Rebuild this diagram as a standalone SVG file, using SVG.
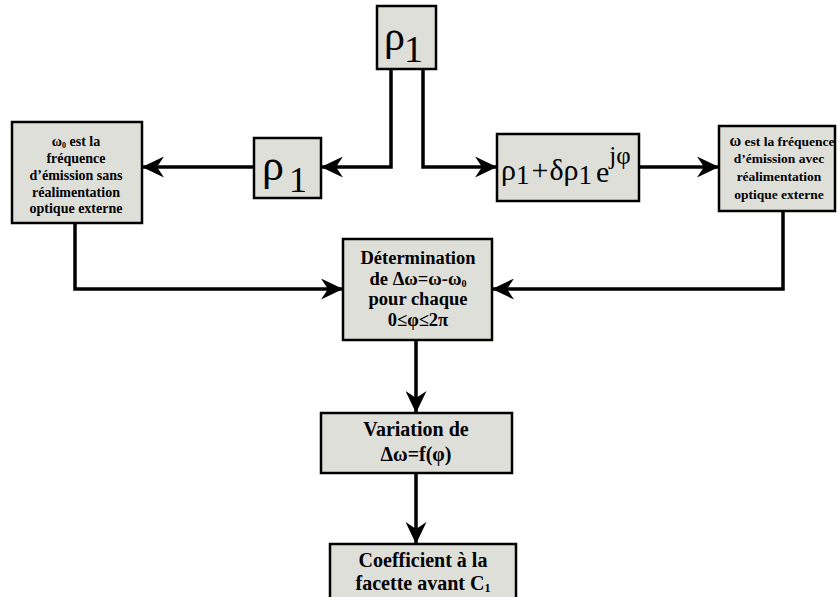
<svg xmlns="http://www.w3.org/2000/svg" width="839" height="597" viewBox="0 0 839 597">
  <style>
    .box { fill: #dfdfda; stroke: #000; stroke-width: 2.5; }
    .wire { fill: none; stroke: #000; stroke-width: 3.5; }
    .t { font-family: "Liberation Serif", "Times New Roman", "DejaVu Serif", serif; font-weight: bold; fill: #000; text-anchor: middle; }
    .s14 { font-size: 14px; }
    .s13 { font-size: 13.5px; }
    .s18 { font-size: 18.5px; }
    .s20 { font-size: 20px; }
  </style>
  <defs>
    <marker id="head" markerUnits="userSpaceOnUse" viewBox="0 0 22 21" refX="22" refY="10.5" markerWidth="22" markerHeight="21" orient="auto">
      <path d="M0,0 L22,10.5 L0,21 L7,10.5 z" fill="#000"/>
    </marker>
  </defs>

  <!-- connectors -->
  <g id="connectors">
    <path class="wire" d="M391,69 V167 H321" marker-end="url(#head)"/>
    <path class="wire" d="M423,69 V167 H497" marker-end="url(#head)"/>
    <path class="wire" d="M254,167 H142" marker-end="url(#head)"/>
    <path class="wire" d="M639,167 H719" marker-end="url(#head)"/>
    <path class="wire" d="M75,223 V289 H343" marker-end="url(#head)"/>
    <path class="wire" d="M783,211 V289 H492" marker-end="url(#head)"/>
    <path class="wire" d="M416,340 V413" marker-end="url(#head)"/>
    <path class="wire" d="M416,473 V544" marker-end="url(#head)"/>
  </g>

  <!-- math labels use the regular serif face -->
  <g id="rho-top" font-family="Liberation Serif, serif" font-weight="400">
    <rect class="box" x="377" y="6" width="59" height="63"/>
    <text x="384" y="50" font-size="42">ρ<tspan x="404" y="62" font-size="38">1</tspan></text>
  </g>

  <g id="rho-left" font-family="Liberation Serif, serif" font-weight="400">
    <rect class="box" x="254" y="138" width="67" height="60"/>
    <text x="262" y="180" font-size="44">ρ<tspan x="289" y="192" font-size="36">1</tspan></text>
  </g>

  <g id="rho-perturbed" font-family="Liberation Serif, serif" font-weight="400">
    <rect class="box" x="497" y="134" width="142" height="67"/>
    <text x="501" y="180" font-size="30">ρ<tspan y="184" font-size="27">1</tspan><tspan dx="2" y="180">+</tspan><tspan dx="1">δρ</tspan><tspan y="184" font-size="27">1</tspan><tspan dx="4" y="182">e</tspan><tspan y="164" font-size="25">jφ</tspan></text>
  </g>

  <!-- free-running frequency -->
  <g id="freq-free">
    <rect class="box" x="12" y="122" width="130" height="101"/>
    <text class="t s14" x="76" y="146">ω<tspan font-size="8" dy="2">0</tspan><tspan dy="-2"> est la</tspan></text>
    <text class="t s14" x="76" y="163">fréquence</text>
    <text class="t s14" x="76" y="180">d’émission sans</text>
    <text class="t s14" x="76" y="197">réalimentation</text>
    <text class="t s14" x="76" y="213">optique externe</text>
  </g>

  <!-- frequency with optical feedback -->
  <g id="freq-feedback">
    <rect class="box" x="719" y="126" width="116" height="85"/>
    <text class="t s13" x="782" y="146"><tspan font-size="16">ω</tspan> est la fréquence</text>
    <text class="t s13" x="779" y="163">d’émission avec</text>
    <text class="t s13" x="779" y="181">réalimentation</text>
    <text class="t s13" x="779" y="199">optique externe</text>
  </g>

  <!-- frequency shift computation -->
  <g id="delta-omega">
    <rect class="box" x="343" y="239" width="149" height="101"/>
    <text class="t s18" x="418" y="264">Détermination</text>
    <text class="t s18" x="418" y="285">de Δω=ω-ω<tspan font-size="10" dy="2">0</tspan></text>
    <text class="t s18" x="418" y="305">pour chaque</text>
    <text class="t s18" x="418" y="326">0≤φ≤2π</text>
  </g>

  <!-- variation of the shift -->
  <g id="variation">
    <rect class="box" x="321" y="413" width="191" height="60"/>
    <text class="t s20" x="416" y="436">Variation de</text>
    <text class="t s20" x="416" y="461">Δω=f(φ)</text>
  </g>

  <!-- front facet coefficient -->
  <g id="coefficient">
    <rect class="box" x="330" y="544" width="186" height="64"/>
    <text class="t s20" x="423" y="567">Coefficient à la</text>
    <text class="t s20" x="423" y="590">facette avant C<tspan font-size="12" dy="2">1</tspan></text>
  </g>
</svg>
